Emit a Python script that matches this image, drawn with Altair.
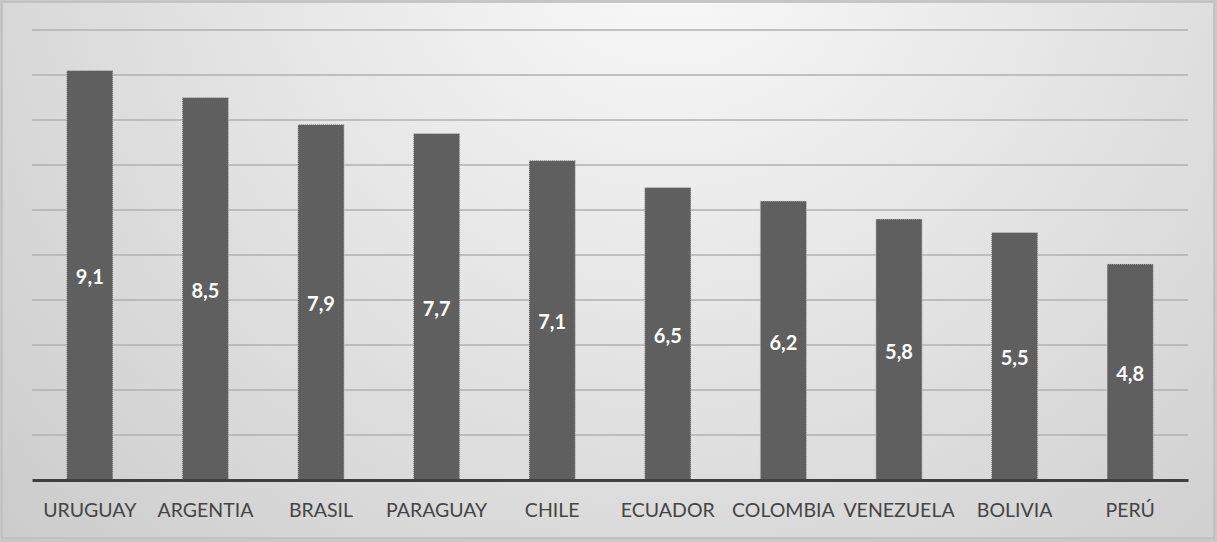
import altair as alt
import pandas as pd

countries = ["URUGUAY", "ARGENTIA", "BRASIL", "PARAGUAY", "CHILE",
             "ECUADOR", "COLOMBIA", "VENEZUELA", "BOLIVIA", "PERÚ"]
values = [9.1, 8.5, 7.9, 7.7, 7.1, 6.5, 6.2, 5.8, 5.5, 4.8]
grid_levels = [1, 2, 3, 4, 5, 6, 7, 8, 9, 10]

df = pd.DataFrame({"pais": countries, "valor": values})
grid_df = pd.DataFrame({"nivel": grid_levels})

W, H = 1156, 450
PAD = {"left": 32, "top": 30, "right": 29, "bottom": 62}

y_scale = alt.Scale(domain=[0, 10], nice=False)

# soft radial background across the whole chart
background = alt.Chart(pd.DataFrame({"a": [0]})).mark_rect(
    fill=alt.Gradient(
        gradient="radial",
        stops=[alt.GradientStop(color="#fbfbfb", offset=0),
               alt.GradientStop(color="#c6c6c6", offset=1)],
        x1=0.55, y1=0.2, x2=0.55, y2=0.2, r1=0, r2=0.85),
    stroke="#bdbdbd", strokeWidth=1.5,
).encode(x=alt.value(-PAD["left"] + 2), x2=alt.value(W + PAD["right"] - 3),
         y=alt.value(-PAD["top"] + 2), y2=alt.value(H + PAD["bottom"] - 4))

gridlines = alt.Chart(grid_df).mark_rule(color="#b0b0b0", strokeWidth=1.5).encode(
    y=alt.Y("nivel:Q", scale=y_scale, axis=None),
    x=alt.value(0), x2=alt.value(W),
)

bars = alt.Chart(df).mark_bar(
    color="#5f5f5f", stroke="#d0d0d0", strokeWidth=1, strokeDash=[1, 1]
).encode(
    x=alt.X("pais:N", sort=countries, title=None,
            scale=alt.Scale(paddingInner=0.6, paddingOuter=0.3),
            axis=alt.Axis(labelFont="Lato", labelFontSize=19.5, labelColor="#454545",
                          labelPadding=21, ticks=False, domainColor="#3f3f3f",
                          domainWidth=3, labelAngle=0, zindex=2)),
    y=alt.Y("valor:Q", scale=y_scale, title=None, axis=None),
)

labels = alt.Chart(df).transform_calculate(
    etiqueta="replace(format(datum.valor, '.1f'), '.', ',')",
    mitad="datum.valor / 2",
).mark_text(font="Lato", fontSize=20, fontWeight="bold", color="white", dy=3).encode(
    x=alt.X("pais:N", sort=countries),
    y=alt.Y("mitad:Q", scale=y_scale),
    text="etiqueta:N",
)

chart = alt.layer(background, gridlines, bars, labels).properties(
    width=W, height=H,
    padding=PAD,
    autosize=alt.AutoSizeParams(type="none"),
    background="#c9c9c9",
).configure_view(stroke=None)

chart.save("out.html", embed_options={"renderer": "svg", "actions": False})
